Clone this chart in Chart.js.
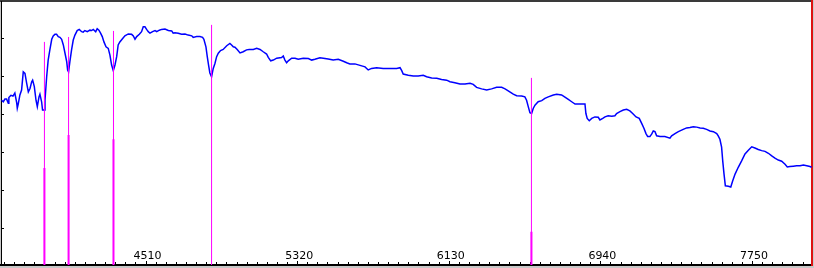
<!DOCTYPE html>
<html>
<head>
<meta charset="utf-8">
<title>Spectrum</title>
<script src="https://cdn.jsdelivr.net/npm/chart.js@4.4.0/dist/chart.umd.min.js"></script>
<style>
  html, body { margin: 0; padding: 0; background: #fff; }
  #spec { display: block; background: #c8c8c8; }
</style>
</head>
<body>
<canvas id="spec" width="814" height="268"></canvas>
<script>
// wavelength axis (Angstrom)
const waveMin = 3735;
const waveMax = 8068;
const majorTicks = [4510, 5320, 6130, 6940, 7750];
const minorStep = 54;

// flux axis (arbitrary units, no labels)
const fluxMin = 0.03;
const fluxMax = 7.0;
const fluxTicks = [1, 2, 3, 4, 5, 6];

// spectrum
const specWave = [
  3738, 3747, 3756, 3765, 3774, 3777, 3788, 3799, 3809, 3819, 3822, 3827, 3836, 3845, 3854, 3863,
  3872, 3881, 3890, 3899, 3904, 3913, 3922, 3929, 3938, 3943, 3952, 3957, 3966, 3970, 3979, 3987,
  3996, 4006, 4014, 4023, 4032, 4041, 4050, 4059, 4068, 4077, 4086, 4091, 4096, 4103, 4112, 4121,
  4130, 4142, 4153, 4166, 4174, 4183, 4196, 4210, 4219, 4228, 4241, 4249, 4258, 4267, 4276, 4285,
  4296, 4308, 4317, 4326, 4335, 4344, 4353, 4361, 4370, 4385, 4397, 4415, 4433, 4442, 4451, 4460,
  4474, 4486, 4495, 4504, 4513, 4522, 4531, 4545, 4558, 4567, 4581, 4593, 4611, 4629, 4647, 4655,
  4664, 4682, 4700, 4718, 4735, 4754, 4762, 4780, 4798, 4812, 4819, 4830, 4837, 4844, 4851, 4860,
  4869, 4878, 4887, 4896, 4908, 4922, 4941, 4958, 4967, 4976, 4985, 4997, 5012, 5029, 5047, 5061,
  5083, 5101, 5119, 5136, 5154, 5163, 5176, 5190, 5208, 5234, 5243, 5252, 5261, 5270, 5288, 5306,
  5323, 5350, 5377, 5395, 5412, 5439, 5457, 5483, 5510, 5537, 5564, 5582, 5599, 5626, 5653, 5680,
  5697, 5715, 5742, 5777, 5813, 5849, 5867, 5876, 5884, 5911, 5938, 5964, 5991, 6009, 6036, 6063,
  6089, 6116, 6134, 6160, 6187, 6214, 6241, 6258, 6276, 6303, 6330, 6356, 6383, 6410, 6428, 6445,
  6472, 6490, 6517, 6534, 6543, 6552, 6561, 6570, 6579, 6588, 6605, 6624, 6641, 6659, 6686, 6704,
  6730, 6748, 6766, 6784, 6802, 6819, 6837, 6855, 6860, 6867, 6878, 6891, 6908, 6926, 6935, 6950,
  6962, 6979, 6998, 7015, 7024, 7042, 7060, 7078, 7095, 7110, 7128, 7145, 7158, 7170, 7181, 7190,
  7202, 7212, 7220, 7229, 7238, 7256, 7282, 7309, 7318, 7336, 7354, 7380, 7398, 7416, 7434, 7452,
  7470, 7487, 7505, 7523, 7541, 7559, 7567, 7576, 7585, 7591, 7598, 7605, 7621, 7634, 7644, 7657,
  7674, 7692, 7710, 7728, 7746, 7763, 7781, 7799, 7817, 7835, 7853, 7870, 7888, 7906, 7924, 7936,
  7950, 7968, 7986, 8004, 8022, 8040, 8057, 8066
];
const specFlux = [
  4.38, 4.34, 4.41, 4.41, 4.30, 4.45, 4.51, 4.49, 4.57, 4.31, 4.17, 4.28, 4.52, 4.65, 5.13, 5.09,
  4.83, 4.60, 4.69, 4.87, 4.91, 4.74, 4.38, 4.21, 4.47, 4.54, 4.34, 4.12, 4.12, 4.38, 5.00, 5.44,
  5.71, 5.99, 6.08, 6.12, 6.12, 6.06, 6.04, 5.99, 5.84, 5.62, 5.40, 5.18, 5.13, 5.40, 5.71, 5.97,
  6.10, 6.22, 6.25, 6.19, 6.18, 6.22, 6.19, 6.23, 6.22, 6.25, 6.19, 6.27, 6.23, 6.15, 6.06, 5.92,
  5.79, 5.75, 5.57, 5.31, 5.16, 5.31, 5.53, 5.84, 5.92, 6.01, 6.08, 6.13, 6.12, 6.08, 5.99, 6.06,
  6.12, 6.19, 6.32, 6.32, 6.25, 6.19, 6.15, 6.19, 6.22, 6.19, 6.23, 6.25, 6.26, 6.22, 6.21, 6.15,
  6.16, 6.15, 6.12, 6.13, 6.10, 6.08, 6.04, 6.06, 6.06, 6.04, 5.99, 5.79, 5.53, 5.31, 5.10, 5.00,
  5.22, 5.35, 5.53, 5.62, 5.69, 5.72, 5.82, 5.88, 5.84, 5.79, 5.78, 5.72, 5.63, 5.66, 5.71, 5.72,
  5.72, 5.75, 5.72, 5.66, 5.60, 5.51, 5.42, 5.44, 5.49, 5.51, 5.55, 5.44, 5.37, 5.42, 5.49, 5.49,
  5.46, 5.49, 5.48, 5.44, 5.46, 5.50, 5.49, 5.47, 5.44, 5.46, 5.41, 5.37, 5.34, 5.34, 5.30, 5.26,
  5.18, 5.22, 5.24, 5.22, 5.22, 5.22, 5.24, 5.16, 5.07, 5.04, 5.02, 5.02, 5.04, 5.00, 4.97, 4.96,
  4.93, 4.91, 4.87, 4.84, 4.81, 4.81, 4.83, 4.80, 4.72, 4.68, 4.65, 4.68, 4.72, 4.72, 4.68, 4.63,
  4.54, 4.50, 4.49, 4.47, 4.38, 4.21, 4.05, 4.03, 4.17, 4.25, 4.34, 4.37, 4.43, 4.47, 4.52, 4.54,
  4.52, 4.46, 4.40, 4.34, 4.28, 4.28, 4.28, 4.28, 4.03, 3.90, 3.84, 3.90, 3.94, 3.93, 3.86, 3.90,
  3.94, 3.97, 3.96, 3.97, 4.03, 4.08, 4.12, 4.14, 4.10, 4.03, 3.94, 3.90, 3.77, 3.64, 3.50, 3.42,
  3.42, 3.49, 3.57, 3.55, 3.44, 3.42, 3.42, 3.38, 3.44, 3.50, 3.55, 3.61, 3.65, 3.66, 3.68, 3.67,
  3.65, 3.64, 3.61, 3.57, 3.55, 3.50, 3.44, 3.35, 3.14, 2.78, 2.43, 2.12, 2.11, 2.09, 2.25, 2.43,
  2.61, 2.78, 2.96, 3.06, 3.15, 3.12, 3.08, 3.05, 3.03, 2.98, 2.91, 2.85, 2.80, 2.77, 2.69, 2.62,
  2.63, 2.64, 2.65, 2.65, 2.67, 2.65, 2.63, 2.61
];

// line markers: position, top of the thin marker, height of the thick strength bar
const lineWave = [3967, 4096, 4336, 4860, 6569];
const lineTop = [5.92, 6.05, 6.21, 6.37, 4.97];
const lineStrength = [2.59, 3.46, 3.35, 0, 0.91];

// build datasets
const spectrumPoints = specWave.map((w, i) => ({ x: w, y: specFlux[i] }));

const markerPoints = [];
const strengthPoints = [];
lineWave.forEach((w, i) => {
    markerPoints.push({ x: w, y: 0 }, { x: w, y: lineTop[i] }, { x: w, y: null });
    if (lineStrength[i] > 0) {
        strengthPoints.push({ x: w, y: 0 }, { x: w, y: lineStrength[i] }, { x: w, y: null });
    }
});

const isMajor = value => majorTicks.includes(value);

// white plot area inside the grey frame
const plotBackground = {
    id: 'plotBackground',
    beforeDraw: function(chart) {
        const a = chart.chartArea;
        const ctx = chart.ctx;
        ctx.save();
        ctx.fillStyle = '#ffffff';
        ctx.fillRect(a.left, a.top, a.right - a.left, a.bottom - a.top);
        ctx.restore();
    }
};

const ctx = document.getElementById('spec').getContext('2d');

new Chart(ctx, {
    type: 'line',
    data: {
        datasets: [
            {
                label: 'lines',
                data: markerPoints,
                borderColor: '#ff00ff',
                borderWidth: 1,
                pointRadius: 0,
                spanGaps: false,
                order: 0
            },
            {
                label: 'strength',
                data: strengthPoints,
                borderColor: '#ff00ff',
                borderWidth: 2,
                pointRadius: 0,
                spanGaps: false,
                order: 1
            },
            {
                label: 'spectrum',
                data: spectrumPoints,
                borderColor: '#0000ff',
                borderWidth: 1.5,
                pointRadius: 0,
                tension: 0,
                order: 2
            }
        ]
    },
    options: {
        responsive: false,
        animation: false,
        devicePixelRatio: 1,
        layout: { padding: 0 },
        plugins: {
            legend: { display: false },
            tooltip: { enabled: false }
        },
        scales: {
            x: {
                type: 'linear',
                position: 'bottom',
                min: waveMin,
                max: waveMax,
                bounds: 'data',
                afterBuildTicks: function(scale) {
                    const ticks = [];
                    for (let v = majorTicks[0]; v >= waveMin; v -= minorStep) ticks.unshift({ value: v });
                    for (let v = majorTicks[0] + minorStep; v <= waveMax; v += minorStep) ticks.push({ value: v });
                    scale.ticks = ticks;
                },
                afterFit: function(scale) { scale.height = 3; },
                grid: {
                    drawOnChartArea: false,
                    drawTicks: true,
                    tickLength: -4,
                    tickColor: '#000000',
                    tickWidth: 1,
                    tickBorderDash: function(c) {
                        return c.tick && isMajor(c.tick.value) ? [] : [4, 100];
                    }
                },
                border: { display: true, color: '#000000', width: 2 },
                ticks: {
                    autoSkip: false,
                    maxRotation: 0,
                    minRotation: 0,
                    mirror: true,
                    padding: 2,
                    labelOffset: 1.5,
                    color: '#000000',
                    font: { family: 'Verdana, "DejaVu Sans", sans-serif', size: 11 },
                    callback: function(value) {
                        return isMajor(value) ? String(value) : '';
                    }
                }
            },
            x2: {
                type: 'linear',
                position: 'top',
                afterFit: function(scale) { scale.height = 1; },
                grid: { drawOnChartArea: false, drawTicks: false },
                border: { display: true, color: '#3a3a3a', width: 2 },
                ticks: { display: false }
            },
            y: {
                type: 'linear',
                position: 'left',
                min: fluxMin,
                max: fluxMax,
                bounds: 'data',
                afterBuildTicks: function(scale) {
                    scale.ticks = fluxTicks.map(v => ({ value: v }));
                },
                afterFit: function(scale) { scale.width = 1; },
                grid: {
                    drawOnChartArea: false,
                    drawTicks: true,
                    tickLength: -3,
                    tickColor: '#000000',
                    tickWidth: 1
                },
                border: { display: true, color: '#000000', width: 1 },
                ticks: { display: false }
            },
            y2: {
                type: 'linear',
                position: 'right',
                afterFit: function(scale) { scale.width = 2; },
                grid: { drawOnChartArea: false, drawTicks: false },
                border: { display: true, color: '#dd1111', width: 2 },
                ticks: { display: false }
            }
        }
    },
    plugins: [plotBackground]
});
</script>
</body>
</html>
